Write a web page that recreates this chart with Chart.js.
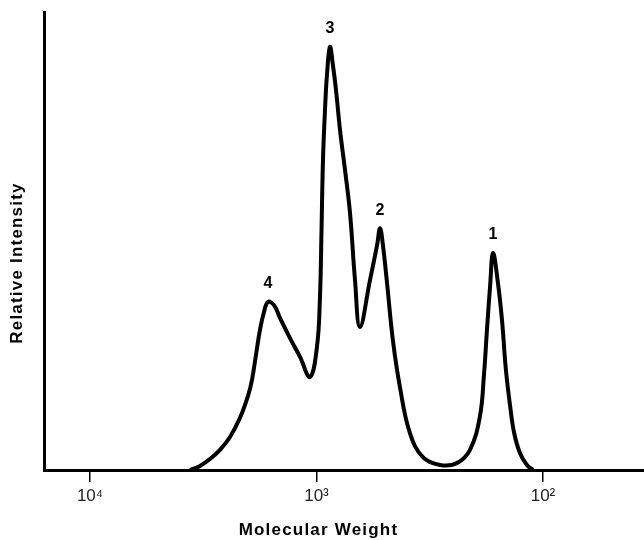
<!DOCTYPE html>
<html>
<head>
<meta charset="utf-8">
<script src="https://cdn.jsdelivr.net/npm/chart.js@4.4.0/dist/chart.umd.min.js"></script>
<style>
  html, body { margin: 0; padding: 0; background: #fff; }
  #wrap { width: 644px; height: 540px; }
</style>
</head>
<body>
<div id="wrap"><canvas id="grafico"></canvas></div>
<script>
// Dados (peso molecular em escala log invertida)
const pesoMolecular = [3618, 3268, 2953, 2667, 2409, 2176, 2006, 1926, 1850, 1776, 1705, 1637, 1540, 1449, 1309, 1182, 1068, 995, 965, 950, 936, 917, 899, 872, 846, 820, 787, 748, 711, 676, 643, 580, 540, 524, 509, 488, 460, 428, 387, 339, 285, 240, 210, 190, 182.2, 176.7, 171, 166.2, 158, 151.7, 145.7, 139.8, 134.3, 126.4, 117.7, 110.7];
const intensidade = [0, 0.9, 2.4, 4.4, 7.2, 11.4, 16.2, 19.7, 25.1, 30.6, 34.5, 36.7, 36.0, 33.2, 28.8, 24.7, 20.3, 26.9, 37.8, 52.4, 67.7, 78.6, 86.2, 92.4, 88.4, 83.0, 74.2, 65.5, 56.1, 41.5, 31.2, 41.5, 49.1, 52.8, 49.1, 40.8, 28.4, 18.1, 8.1, 2.8, 1.1, 1.5, 4.4, 11.6, 20.7, 30.6, 40.4, 47.4, 40.8, 32.8, 21.8, 14.2, 8.3, 3.7, 1.1, 0];

// Picos numerados (peso molecular do topo de cada pico)
const picosPeso = [1637, 872, 524, 166.2];
const picosRotulo = ["4", "3", "2", "1"];

// Marcas do eixo x
const valoresTick = [10000, 1000, 100];
const rotulosTick = ["10\u2074", "10\u00B3", "10\u00B2"];

const tituloX = "Molecular Weight";
const tituloY = "Relative Intensity";

const fonte = '"Liberation Sans", Arial, Helvetica, sans-serif';

// Plugin para os números dos picos e os títulos dos eixos
const rotulosPlugin = {
  id: "rotulos",
  afterDraw(chart) {
    const { ctx, scales } = chart;
    const x = scales.x;
    const y = scales.y;
    ctx.save();
    ctx.fillStyle = "#000";
    ctx.textAlign = "center";
    ctx.textBaseline = "middle";

    ctx.font = "bold 16px " + fonte;
    picosPeso.forEach((m, k) => {
      const i = pesoMolecular.indexOf(m);
      const px = x.getPixelForValue(m);
      const py = y.getPixelForValue(intensidade[i]);
      ctx.fillText(picosRotulo[k], px, py - 18);
    });

    ctx.letterSpacing = "1.2px";
    ctx.font = "bold 17px " + fonte;
    ctx.fillText(tituloX, x.getPixelForValue(1000) + 2, 530);

    ctx.translate(17, 263);
    ctx.rotate(-Math.PI / 2);
    ctx.fillText(tituloY, 0, 0);
    ctx.restore();
  },
};

const ctx = document.getElementById("grafico").getContext("2d");

new Chart(ctx, {
  type: "line",
  data: {
    datasets: [
      {
        label: "Intensidade",
        data: pesoMolecular.map((m, i) => ({ x: m, y: intensidade[i] })),
        borderColor: "#000",
        borderWidth: 4,
        pointRadius: 0,
        fill: false,
        tension: 0.4,
        clip: { left: 0, right: 0, top: 6, bottom: 0 },
      },
    ],
  },
  options: {
    responsive: true,
    maintainAspectRatio: false,
    animation: false,
    layout: { padding: { top: 12, right: 0, left: 0, bottom: 0 } },
    plugins: {
      legend: { display: false },
      tooltip: { enabled: false },
    },
    scales: {
      x: {
        type: "logarithmic",
        reverse: true,
        min: 35.8,
        max: 15960,
        afterBuildTicks: (scale) => {
          scale.ticks = valoresTick.map((v) => ({ value: v }));
        },
        afterFit: (scale) => {
          scale.height = 70;
        },
        ticks: {
          autoSkip: false,
          maxRotation: 0,
          padding: 4,
          color: "#222",
          font: { size: 17, family: fonte },
          callback: (value, index) => rotulosTick[index],
        },
        grid: {
          drawOnChartArea: false,
          drawTicks: true,
          tickLength: 12,
          color: "#000",
          lineWidth: 1.5,
        },
        border: { display: true, color: "#000", width: 3 },
      },
      y: {
        min: 0,
        max: 100,
        ticks: { display: false },
        grid: { display: false },
        border: { display: true, color: "#000", width: 3 },
        afterFit: (scale) => {
          scale.width = 44;
        },
      },
    },
  },
  plugins: [rotulosPlugin],
});
</script>
</body>
</html>
